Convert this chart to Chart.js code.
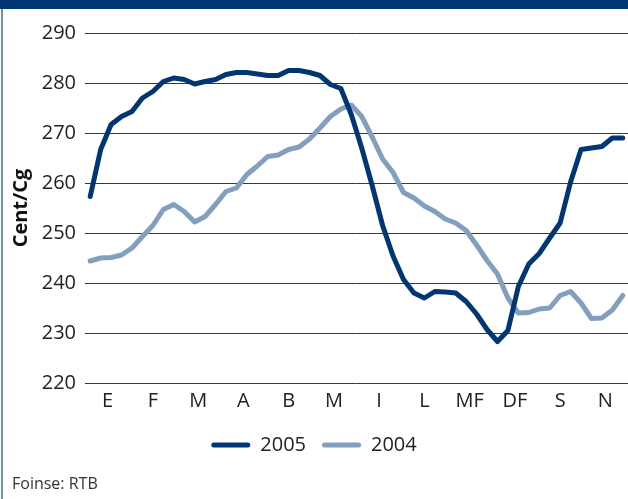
<!DOCTYPE html>
<html><head><meta charset="utf-8">
<script src="https://cdn.jsdelivr.net/npm/chart.js@4/dist/chart.umd.min.js"></script>
<style>
html,body{margin:0;padding:0;background:#fff;}
#wrap{position:relative;width:628px;height:499px;overflow:hidden;font-family:"Open Sans",sans-serif;}
#chartbox{position:absolute;left:0;top:0;width:628px;height:499px;}
#topbar{position:absolute;left:0;top:0;width:628px;height:9px;background:#003673;}
#leftbar{position:absolute;left:1px;top:9px;width:2px;height:490px;background:#6f8fbd;}
#source{position:absolute;left:12px;top:473px;font-size:16px;color:#333;line-height:20px;}
</style></head><body>
<div id="wrap">
<div id="chartbox"><canvas id="c"></canvas></div>
<div id="topbar"></div><div id="leftbar"></div>
<div id="source">Foinse: RTB</div>
</div>
<script>
const months = ['E','F','M','A','B','M','I','L','MF','DF','S','N'];
const seriesNames = ['2005','2004'];
const y2005 = [257.3,266.7,271.7,273.3,274.3,277,278.3,280.3,281,280.7,279.8,280.3,280.7,281.7,282.1,282.1,281.8,281.5,281.5,282.5,282.5,282.1,281.5,279.7,278.9,273.7,267,259.5,251.5,245.4,240.7,238,237,238.3,238.2,238,236.3,233.8,230.7,228.3,230.5,239.3,243.8,245.9,249,252,260.2,266.7,267,267.3,269,269];
const y2004 = [244.4,245,245.1,245.6,247,249.3,251.5,254.7,255.7,254.3,252.2,253.3,255.7,258.3,259,261.7,263.4,265.3,265.6,266.7,267.2,268.8,271,273.3,274.8,275.6,273.3,269.2,264.8,262.1,258.1,257,255.4,254.3,252.8,252,250.5,247.6,244.5,241.8,237,234,234.1,234.8,235,237.5,238.3,236,232.9,233,234.6,237.5];
const yTicks = [220,230,240,250,260,270,280,290];

const FONT = '"Open Sans", sans-serif';
const toPts = arr => arr.map((v, i) => ({x: i, y: v}));

new Chart(document.getElementById('c'), {
  type: 'line',
  data: {
    labels: months,
    datasets: [
      {label: seriesNames[0], data: toPts(y2005), xAxisID: 'xw', borderColor: '#003673', backgroundColor: '#003673', borderWidth: 5, pointRadius: 0, tension: 0, borderJoinStyle: 'round', borderCapStyle: 'round'},
      {label: seriesNames[1], data: toPts(y2004), xAxisID: 'xw', borderColor: '#829fc0', backgroundColor: '#829fc0', borderWidth: 5, pointRadius: 0, tension: 0, borderJoinStyle: 'round', borderCapStyle: 'round'}
    ]
  },
  options: {
    responsive: true,
    maintainAspectRatio: false,
    animation: false,
    layout: {padding: {top: 33, left: 0, right: 0, bottom: 34}},
    plugins: {
      tooltip: {enabled: false},
      legend: {
        position: 'bottom',
        labels: {
          font: {family: FONT, size: 20},
          color: '#222',
          boxWidth: 39,
          boxHeight: 5,
          padding: 16,
          useBorderRadius: true,
          borderRadius: 2.5,
          generateLabels: chart => Chart.defaults.plugins.legend.labels.generateLabels(chart).map(l => Object.assign(l, {lineWidth: 0}))
        }
      }
    },
    scales: {
      x: {
        type: 'category',
        labels: months,
        offset: true,
        grid: {display: false, drawTicks: false},
        border: {display: false},
        ticks: {font: {family: FONT, size: 20, lineHeight: 1}, color: '#222', padding: 8, maxRotation: 0, autoSkip: false}
      },
      xw: {
        type: 'linear',
        display: false,
        min: -0.5,
        max: y2005.length - 0.5
      },
      y: {
        min: 220,
        max: 290,
        afterFit: s => { s.width = 85; },
        afterBuildTicks: s => { s.ticks = yTicks.map(v => ({value: v})); },
        grid: {color: '#1d3d72', lineWidth: 1, drawTicks: false},
        border: {display: false},
        ticks: {font: {family: FONT, size: 20}, color: '#222', padding: 9},
        title: {display: true, text: 'Cent/Cg', font: {family: FONT, size: 20, weight: 'bold'}, color: '#111', padding: {top: 9, bottom: 0}}
      }
    }
  }
});
</script>
</body></html>
